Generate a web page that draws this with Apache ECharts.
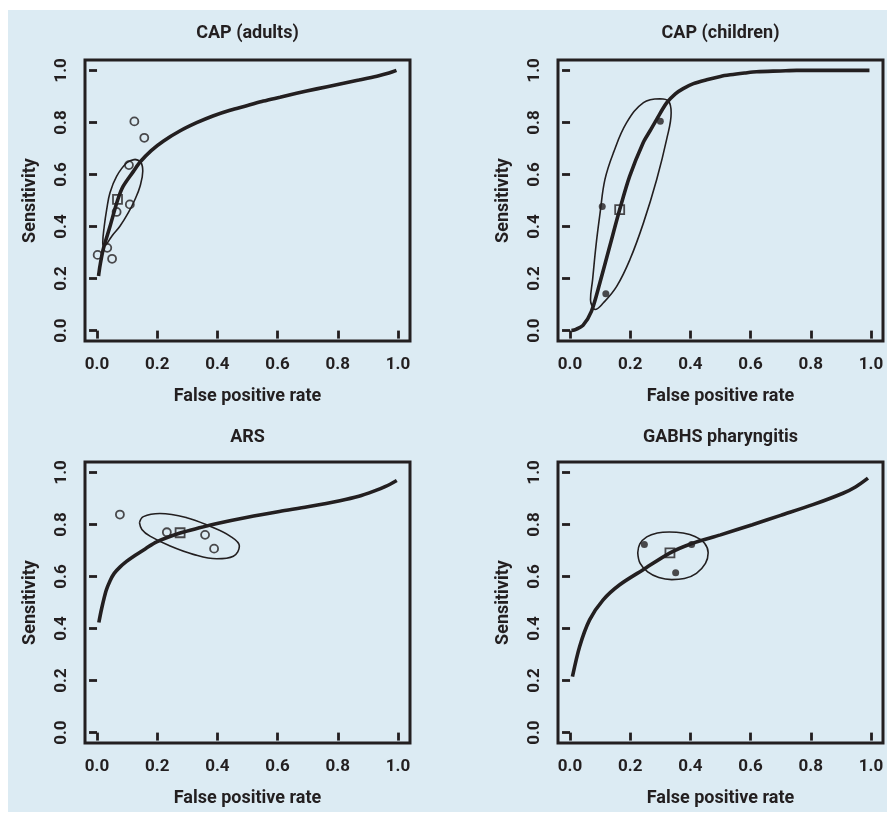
<!DOCTYPE html>
<html>
<head>
<meta charset="utf-8">
<script src="https://cdn.jsdelivr.net/npm/echarts@6/dist/echarts.min.js"></script>
<style>
  html, body { margin: 0; padding: 0; background: #ffffff; }
  #panel { position: absolute; left: 8px; top: 10px; width: 879px; height: 802px; background: #dcebf3; }
  #main { position: absolute; left: 0; top: 0; width: 887px; height: 814px; }
</style>
</head>
<body>
<div id="panel"></div>
<div id="main"></div>
<script>
// tick positions on both axes
var ticks = [0, 0.2, 0.4, 0.6, 0.8, 1.0]

// panel titles
var titles = ['CAP (adults)', 'CAP (children)', 'ARS', 'GABHS pharyngitis']

// CAP (adults): SROC curve, studies, summary point, confidence region
var adultsCurve = [[0.005, 0.21], [0.01, 0.25], [0.02, 0.31], [0.043, 0.40], [0.068, 0.50], [0.087, 0.555],
  [0.121, 0.612], [0.143, 0.648], [0.18, 0.692], [0.22, 0.728], [0.275, 0.767], [0.331, 0.799],
  [0.385, 0.825], [0.442, 0.847], [0.5, 0.865], [0.553, 0.882], [0.608, 0.897], [0.663, 0.912],
  [0.73, 0.929], [0.8, 0.946], [0.87, 0.963], [0.93, 0.978], [0.97, 0.99], [0.995, 1.0]]
var adultsStudies = [[0.124, 0.804], [0.157, 0.741], [0.106, 0.636], [0.109, 0.485], [0.065, 0.456],
  [0.034, 0.318], [0.002, 0.291], [0.05, 0.276]]
var adultsSummary = [[0.068, 0.504]]
var adultsRegion = [[0.126, 0.658], [0.099, 0.645], [0.065, 0.593], [0.043, 0.530], [0.032, 0.465],
  [0.024, 0.401], [0.019, 0.337], [0.022, 0.326], [0.03, 0.33], [0.049, 0.363], [0.076, 0.401],
  [0.104, 0.453], [0.126, 0.504], [0.143, 0.555], [0.152, 0.613], [0.145, 0.648], [0.126, 0.658]]

// CAP (children)
var childrenCurve = [[0.005, 0.0], [0.02, 0.005], [0.043, 0.02], [0.071, 0.074], [0.099, 0.183],
  [0.132, 0.324], [0.165, 0.465], [0.198, 0.593], [0.243, 0.722], [0.266, 0.768], [0.287, 0.81],
  [0.321, 0.875], [0.35, 0.91], [0.376, 0.93], [0.41, 0.949], [0.454, 0.964], [0.5, 0.977],
  [0.532, 0.983], [0.58, 0.99], [0.62, 0.995], [0.7, 0.998], [0.753, 1.0], [0.85, 1.0], [0.995, 1.0]]
var childrenStudies = [[0.107, 0.477], [0.300, 0.805], [0.119, 0.142]]
var childrenSummary = [[0.165, 0.465]]
var childrenRegion = [[0.299, 0.891], [0.244, 0.876], [0.188, 0.799], [0.144, 0.683], [0.116, 0.581],
  [0.100, 0.453], [0.086, 0.324], [0.075, 0.196], [0.068, 0.119], [0.072, 0.098], [0.083, 0.081],
  [0.111, 0.107], [0.155, 0.170], [0.199, 0.273], [0.244, 0.414], [0.288, 0.581], [0.321, 0.735],
  [0.336, 0.837], [0.327, 0.882], [0.299, 0.891]]

// ARS
var arsCurve = [[0.006, 0.423], [0.015, 0.475], [0.03, 0.545], [0.043, 0.583], [0.057, 0.612],
  [0.076, 0.636], [0.098, 0.658], [0.121, 0.677], [0.16, 0.706], [0.198, 0.733], [0.276, 0.767],
  [0.34, 0.787], [0.403, 0.805], [0.5, 0.828], [0.606, 0.850], [0.7, 0.868], [0.807, 0.891],
  [0.87, 0.908], [0.918, 0.927], [0.959, 0.946], [0.996, 0.969]]
var arsStudies = [[0.076, 0.838], [0.232, 0.770], [0.359, 0.760], [0.389, 0.707]]
var arsSummary = [[0.276, 0.768]]
var arsRegion = [[0.141, 0.807], [0.154, 0.830], [0.209, 0.842], [0.298, 0.826], [0.375, 0.793],
  [0.442, 0.755], [0.473, 0.717], [0.453, 0.678], [0.398, 0.668], [0.320, 0.685], [0.243, 0.717],
  [0.176, 0.755], [0.149, 0.781], [0.141, 0.807]]

// GABHS pharyngitis
var gabhsCurve = [[0.008, 0.215], [0.032, 0.331], [0.065, 0.433], [0.11, 0.51], [0.165, 0.568],
  [0.243, 0.626], [0.331, 0.69], [0.403, 0.726], [0.5, 0.76], [0.606, 0.799], [0.7, 0.835],
  [0.807, 0.876], [0.907, 0.92], [0.95, 0.945], [0.99, 0.978]]
var gabhsStudies = [[0.247, 0.723], [0.404, 0.723], [0.351, 0.614]]
var gabhsSummary = [[0.332, 0.691]]
var gabhsRegion = [[0.225, 0.691], [0.232, 0.725], [0.255, 0.752], [0.290, 0.767], [0.330, 0.771],
  [0.375, 0.767], [0.415, 0.754], [0.447, 0.728], [0.459, 0.691], [0.450, 0.650], [0.420, 0.612],
  [0.380, 0.592], [0.338, 0.588], [0.295, 0.596], [0.258, 0.618], [0.233, 0.650], [0.225, 0.691]]

var ink = '#231f20'
var font = 'Roboto, "DejaVu Sans", sans-serif'

// layout of the four panels (plot box in pixels)
var boxes = [
  { left: 85, top: 60, title: 34 },
  { left: 558, top: 60, title: 34 },
  { left: 85, top: 462, title: 438 },
  { left: 558, top: 462, title: 438 }
]
var panels = [
  { curve: adultsCurve, studies: adultsStudies, summary: adultsSummary, region: adultsRegion, filled: false },
  { curve: childrenCurve, studies: childrenStudies, summary: childrenSummary, region: childrenRegion, filled: true },
  { curve: arsCurve, studies: arsStudies, summary: arsSummary, region: arsRegion, filled: false },
  { curve: gabhsCurve, studies: gabhsStudies, summary: gabhsSummary, region: gabhsRegion, filled: true }
]

var option = { animation: false, title: [], grid: [], xAxis: [], yAxis: [], series: [] }

boxes.forEach(function (b, i) {
  var p = panels[i]
  option.title.push({
    text: titles[i],
    left: b.left + 162.5,
    top: b.title - 10,
    textAlign: 'center',
    padding: 0,
    textStyle: { fontFamily: font, fontWeight: 'bold', fontSize: 18, color: ink }
  })
  option.grid.push({
    left: b.left, top: b.top, width: 325, height: 281,
    show: true, borderColor: ink, borderWidth: 3, backgroundColor: 'transparent'
  })
  var axisCommon = {
    gridIndex: i,
    type: 'value',
    min: -0.04,
    max: 1.04,
    nameLocation: 'middle',
    nameTextStyle: { fontFamily: font, fontWeight: 'bold', fontSize: 18, color: ink },
    axisLine: { show: false },
    axisTick: { show: true, inside: false, length: 8, customValues: ticks, lineStyle: { color: ink, width: 2.8 } },
    splitLine: { show: false }
  }
  option.xAxis.push(Object.assign({}, axisCommon, {
    name: 'False positive rate',
    nameGap: 46,
    axisLabel: {
      customValues: ticks, margin: 15, fontFamily: font, fontWeight: 'bold', fontSize: 17, color: ink,
      formatter: function (v) { return v.toFixed(1) }
    }
  }))
  option.yAxis.push(Object.assign({}, axisCommon, {
    name: 'Sensitivity',
    nameGap: 46,
    axisLabel: {
      customValues: ticks, margin: 15, rotate: 90, fontFamily: font, fontWeight: 'bold', fontSize: 17, color: ink,
      formatter: function (v) { return v.toFixed(1) }
    }
  }))
  option.series.push({
    type: 'line', xAxisIndex: i, yAxisIndex: i, data: p.region, smooth: 0.4,
    showSymbol: false, lineStyle: { color: ink, width: 1.6 }, z: 2
  })
  option.series.push({
    type: 'line', xAxisIndex: i, yAxisIndex: i, data: p.curve, smooth: 0.3,
    showSymbol: false, lineStyle: { color: ink, width: 3.6 }, z: 3
  })
  option.series.push({
    type: 'scatter', xAxisIndex: i, yAxisIndex: i, data: p.studies, symbol: 'circle',
    symbolSize: p.filled ? 7 : 8,
    itemStyle: p.filled ? { color: ink } : { color: 'rgba(0,0,0,0)', borderColor: ink, borderWidth: 1.8 },
    z: 4
  })
  option.series.push({
    type: 'scatter', xAxisIndex: i, yAxisIndex: i, data: p.summary, symbol: 'rect', symbolSize: 9,
    itemStyle: { color: 'rgba(0,0,0,0)', borderColor: ink, borderWidth: 1.8 }, z: 5
  })
})

var myChart = echarts.init(document.getElementById('main'))
myChart.setOption(option)
</script>
</body>
</html>
